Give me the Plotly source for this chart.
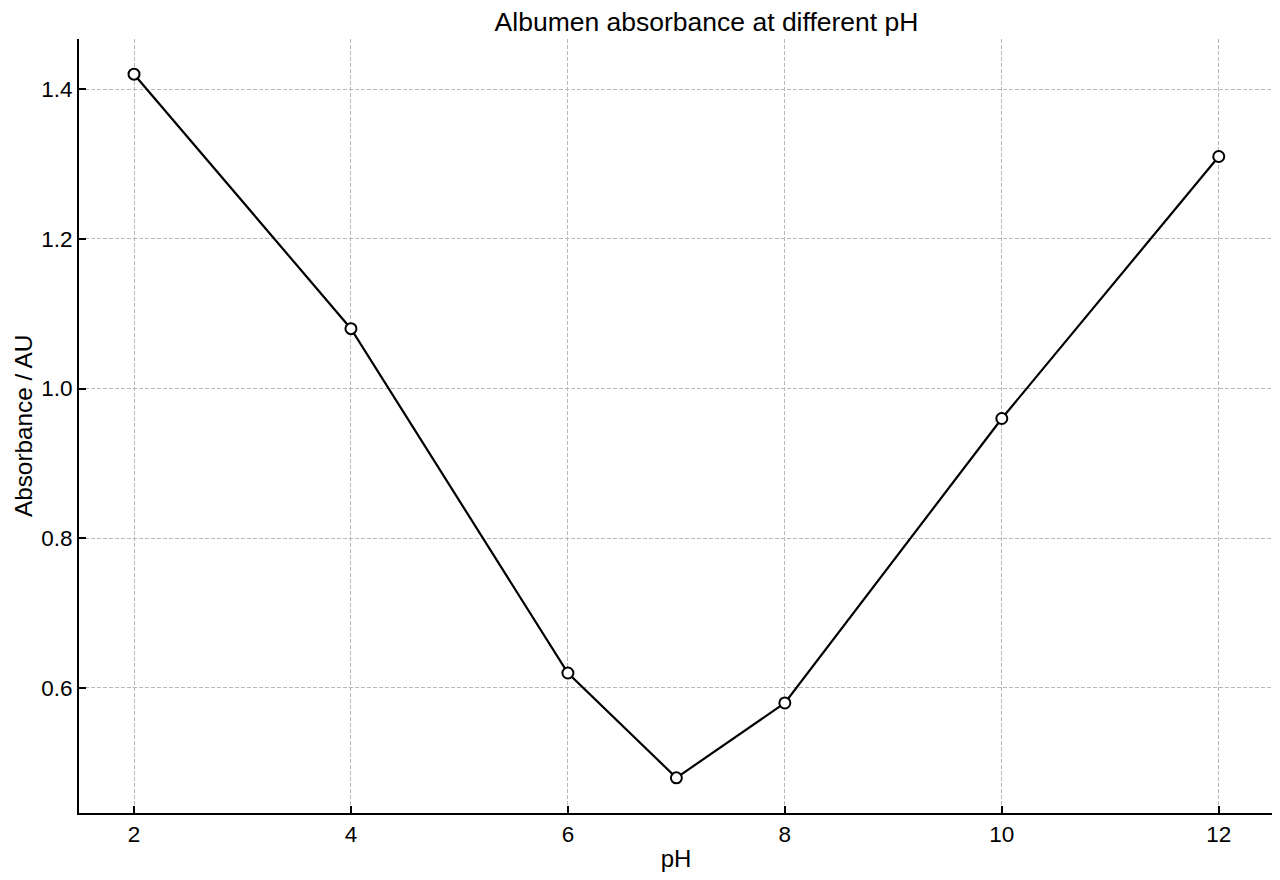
import plotly.graph_objects as go

# data
ph = [2, 4, 6, 7, 8, 10, 12]
absorbance = [1.42, 1.08, 0.62, 0.48, 0.58, 0.96, 1.31]
x_ticks = [2, 4, 6, 8, 10, 12]
y_ticks = [0.6, 0.8, 1.0, 1.2, 1.4]

W, H = 1272, 864

fig = go.Figure(go.Scatter(
    x=ph,
    y=absorbance,
    mode="lines+markers",
    line=dict(color="black", width=2.2),
    marker=dict(symbol="circle", size=11, color="white",
                line=dict(color="black", width=2)),
    showlegend=False
))

axis_common = dict(
    showline=True,
    linecolor="black",
    linewidth=2,
    ticks="inside",
    ticklen=7,
    tickwidth=2,
    tickcolor="black",
    showgrid=True,
    gridcolor="#b8b8b8",
    griddash="4px,2px",
    gridwidth=1,
    zeroline=False,
    mirror=False,
    automargin=False,
    tickfont=dict(size=22.5, color="black"),
)

fig.update_layout(
    width=W,
    height=H,
    paper_bgcolor="white",
    plot_bgcolor="white",
    font=dict(family="Liberation Sans, Arial, sans-serif", color="black"),
    title=dict(text="Albumen absorbance at different pH",
               x=668.5 / W, xanchor="center", xref="paper",
               y=1 - 14 / H, yanchor="middle", yref="container",
               font=dict(size=26.5, color="black")),
    margin=dict(l=71, r=W - 1265, t=31, b=H - 805),
    xaxis=dict(axis_common,
               title=dict(text="pH", standoff=15,
                          font=dict(size=24, color="black")),
               range=[1.493, 12.5], tickvals=x_ticks,
               ticktext=[str(v) for v in x_ticks]),
    yaxis=dict(axis_common,
               range=[0.433, 1.467], tickvals=y_ticks,
               ticktext=["%.1f" % v for v in y_ticks]),
    annotations=[dict(
        text="Absorbance / AU", textangle=-90,
        xref="paper", yref="paper", x=0, y=0.5,
        xanchor="center", yanchor="middle", xshift=-56, showarrow=False,
        font=dict(size=24.3, color="black"),
    )],
)

fig.write_html("out.html")
